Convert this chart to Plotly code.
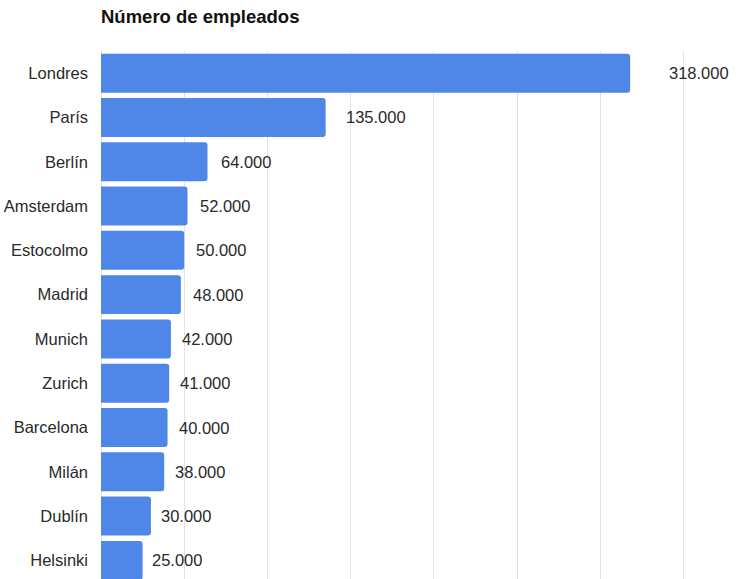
import plotly.graph_objects as go

cities = ["Londres", "París", "Berlín", "Amsterdam", "Estocolmo", "Madrid",
          "Munich", "Zurich", "Barcelona", "Milán", "Dublín", "Helsinki"]
employees = [318000, 135000, 64000, 52000, 50000, 48000,
             42000, 41000, 40000, 38000, 30000, 25000]

TITLE = "Número de empleados"
BAR_COLOR = "#4f87e9"
TEXT_COLOR = "#2a2a2a"
FONT = "Liberation Sans, Arial, sans-serif"

fig = go.Figure()
fig.add_trace(go.Bar(
    x=employees, y=cities, orientation="h",
    marker=dict(color=BAR_COLOR, line=dict(width=0)),
    hoverinfo="skip",
))

# value labels: gap after the bar grows slightly with bar length
for c, v in zip(cities, employees):
    fig.add_annotation(
        x=v, y=c, xref="x", yref="y", text=f"{v:,}".replace(",", "."),
        showarrow=False, xanchor="left", yanchor="middle",
        xshift=5 + v * 0.0001,
        font=dict(family=FONT, size=16.5, color=TEXT_COLOR),
    )

fig.update_layout(
    width=741, height=579,
    margin=dict(l=101, r=0, t=51, b=0),
    paper_bgcolor="white", plot_bgcolor="white",
    bargap=0.12,
    barcornerradius=3,
    separators=",.",
    showlegend=False,
    font=dict(family=FONT, size=16, color=TEXT_COLOR),
    title=dict(text="<b>" + TITLE + "</b>", x=101 / 741, xanchor="left",
               y=1 - 17 / 579, yanchor="middle", yref="container",
               font=dict(family=FONT, size=18.5, color="#111111")),
)
fig.update_xaxes(range=[0, 384615], dtick=50000, tick0=0, showticklabels=False,
                 showgrid=True, gridcolor="#e3e3e3", gridwidth=1,
                 zeroline=True, zerolinecolor="#e3e3e3", zerolinewidth=1,
                 showline=False)
fig.update_yaxes(range=[11.42, -0.5], showgrid=False, zeroline=False,
                 showline=False, ticklabelstandoff=12,
                 tickfont=dict(family=FONT, size=16.5, color=TEXT_COLOR))

fig.write_html("out.html", config={"displayModeBar": False},
               post_script="document.body.style.margin='0';")
